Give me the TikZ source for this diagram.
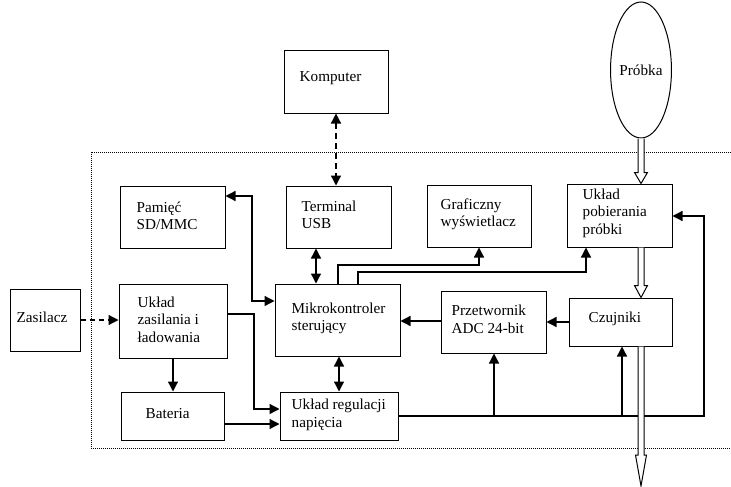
\documentclass[tikz,border=0pt]{standalone}
\usepackage{fontspec}
\setmainfont{Liberation Serif}
\usetikzlibrary{arrows.meta,shapes.geometric,calc}

\tikzset{
  blk/.style={draw, line width=1pt, rectangle, inner sep=0pt},
  lbl/.style={anchor=west, align=left, inner sep=0pt, font=\fontsize{15.2pt}{17.5pt}\selectfont},
  conn/.style={line width=1.3pt, -{Triangle[length=10pt,width=10pt]}},
  bconn/.style={line width=1.3pt, {Triangle[length=10pt,width=10pt]}-{Triangle[length=10pt,width=10pt]}},
  dsh/.style={dash pattern=on 6pt off 4pt},
  frameline/.style={line width=0.8pt, dash pattern=on 1pt off 1pt},
  hollow/.style={line width=1pt, fill=white},
}

\newcommand{\hollowdown}[4]{%
  \draw[hollow] let \p1=(#1), \p2=(#2) in
    (\x1-3pt,\y1) -- (\x1-3pt,\y2+#3) -- (\x1-#4,\y2+#3) -- (\x1,\y2)
    -- (\x1+#4,\y2+#3) -- (\x1+3pt,\y2+#3) -- (\x1+3pt,\y1);}

\begin{document}
\begin{tikzpicture}[x=1pt,y=-1pt]
\useasboundingbox (0,0) rectangle (731,487);

% frame
\draw[frameline] (731,152) -- (91,152) -- (91,448) -- (731,448);

% boxes
\node[blk, minimum width=104pt, minimum height=62pt] (komp) at (336,82) {};
\node[draw, line width=1pt, ellipse, inner sep=0pt, minimum width=59pt, minimum height=136pt,
      font=\fontsize{15.2pt}{17.5pt}\selectfont] (probka) at (641,70) {Próbka};
\node[blk, minimum width=105pt, minimum height=62pt] (pamiec) at (172.5,217) {};
\node[blk, minimum width=105pt, minimum height=62pt] (usb) at (338.5,217) {};
\node[blk, minimum width=104pt, minimum height=62pt] (graf) at (479,216) {};
\node[blk, minimum width=105pt, minimum height=63pt] (pob) at (619.5,215.5) {};
\node[blk, minimum width=125pt, minimum height=72pt] (mikro) at (337.5,320) {};
\node[blk, minimum width=108pt, minimum height=74pt] (zas) at (173,321) {};
\node[blk, minimum width=70pt, minimum height=62pt] (zasilacz) at (45,320) {};
\node[blk, minimum width=103pt, minimum height=48pt] (bat) at (172.5,416) {};
\node[blk, minimum width=118pt, minimum height=48pt] (reg) at (339,416) {};
\node[blk, minimum width=105pt, minimum height=62pt] (adc) at (493.5,322) {};
\node[blk, minimum width=103pt, minimum height=48pt] (czuj) at (620.5,322) {};

% texts
\node[lbl] (t-komp) at ([xshift=16pt,yshift=4pt]komp.west) {Komputer};
\node[lbl] (t-pamiec) at ([xshift=17pt,yshift=1pt]pamiec.west) {Pamięć\\SD/MMC};
\node[lbl] (t-usb) at ([xshift=16pt,yshift=2pt]usb.west) {Terminal\\USB};
\node[lbl] (t-graf) at ([xshift=14pt,yshift=1.5pt]graf.west) {Graficzny\\wyświetlacz};
\node[lbl] (t-pob) at ([xshift=16pt,yshift=2.5pt]pob.west) {Układ\\pobierania\\próbki};
\node[lbl] (t-mikro) at ([xshift=17pt,yshift=1.5pt]mikro.west) {Mikrokontroler\\sterujący};
\node[lbl] (t-zas) at ([xshift=19pt,yshift=1.5pt]zas.west) {Układ\\zasilania i\\ładowania};
\node[lbl] (t-zasilacz) at ([xshift=7pt,yshift=3pt]zasilacz.west) {Zasilacz};
\node[lbl] (t-bat) at ([xshift=25pt,yshift=2pt]bat.west) {Bateria};
\node[lbl] (t-reg) at ([xshift=12pt,yshift=1pt]reg.west) {Układ regulacji\\napięcia};
\node[lbl] (t-adc) at ([xshift=11pt,yshift=2.5pt]adc.west) {Przetwornik\\ADC 24-bit};
\node[lbl] (t-czuj) at ([xshift=20pt,yshift=3pt]czuj.west) {Czujniki};

% connectors
\draw[bconn, dsh] (komp.south) -- (komp.south |- usb.north);
\draw[bconn] (usb.south -| 316,0) -- (mikro.north -| 316,0);
\draw[bconn] (pamiec.east |- 0,196) -| (252,301) -- (mikro.west |- 0,301);
\draw[conn] (mikro.north -| 338,0) |- (graf.south |- 0,265) -- (graf.south);
\draw[conn] (mikro.north -| 358,0) |- (586,272) -- (pob.south -| 586,0);
\draw[conn] (adc.west |- 0,321) -- (mikro.east |- 0,321);
\draw[conn] (czuj.west) -- (adc.east |- czuj.west);
\draw[conn] (zas.south) -- (zas.south |- bat.north);
\draw[conn, dash pattern=on 5pt off 4pt] (zasilacz.east) -- (zas.west |- zasilacz.east);
\draw[conn] (zas.east |- 0,314) -| (254,409) -- (reg.west |- 0,409);
\draw[conn] (bat.east |- 0,424) -- (reg.west |- 0,424);
\draw[bconn] (mikro.south -| 339,0) -- (reg.north -| 339,0);
\draw[conn] (reg.east) -| (704,216) -- (pob.east |- 0,216);
\coordinate (j1) at (494,416);
\draw[conn] (j1) -- (j1 |- adc.south);
\coordinate (j2) at (622,416);
\draw[conn] (j2) -- (j2 |- czuj.south);

% hollow arrows
\hollowdown{probka.south}{pob.north -| probka.south}{11pt}{6.5pt}
\hollowdown{pob.south -| probka.south}{czuj.north -| probka.south}{12pt}{6.5pt}
\coordinate (out) at (641,486);
\hollowdown{czuj.south -| probka.south}{out}{31pt}{5.5pt}
\end{tikzpicture}
\end{document}
